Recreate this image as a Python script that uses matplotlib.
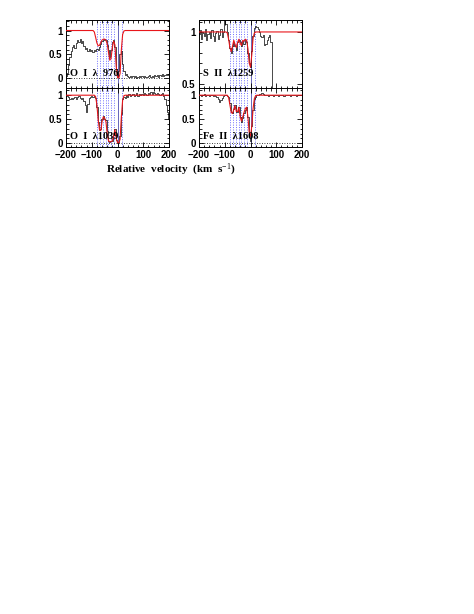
import numpy as np
import matplotlib
matplotlib.use("Agg")
import matplotlib.pyplot as plt
from matplotlib.ticker import MultipleLocator

plt.rcParams["mathtext.fontset"] = "custom"
plt.rcParams["mathtext.rm"] = "Liberation Serif"
plt.rcParams["mathtext.it"] = "Liberation Serif:italic"
plt.rcParams["mathtext.bf"] = "Liberation Serif:bold"

# velocity grid (km/s)
VEL = list(range(-200, 205, 5))

# component velocities (dotted blue lines)
COMP_VEL = [-78, -67, -55, -45, -35, -24, -14, 16]
ZERO_VEL = 0

# ---- O I 976 ----
OI976_FLUX = [0.05, 0.12, 0.28, 0.45, 0.58, 0.66, 0.70, 0.64, 0.74, 0.80,
              0.76, 0.82, 0.74, 0.78, 0.68, 0.62, 0.64, 0.58, 0.62, 0.57,
              0.59, 0.56, 0.60, 0.58, 0.62, 0.60, 0.66, 0.72, 0.78, 0.80,
              0.82, 0.80, 0.70, 0.60, 0.44, 0.60, 0.75, 0.80, 0.65, 0.20,
              0.04, 0.15, 0.50, 0.58, 0.30, 0.15, 0.08, 0.10, 0.06, 0.04,
              0.05, 0.02, 0.06, 0.03, 0.05, 0.01, 0.04, 0.06, 0.02, 0.05,
              0.03, 0.06, 0.04, 0.02, 0.05, 0.07, 0.03, 0.06, 0.04, 0.08,
              0.05, 0.07, 0.04, 0.08, 0.06, 0.09, 0.05, 0.08, 0.10, 0.07,
              0.09]
OI976_MODEL = [1.0] * 20 + [
              1.00, 1.00, 0.97, 0.86, 0.74, 0.68, 0.69, 0.75, 0.80, 0.82,
              0.82, 0.80, 0.72, 0.55, 0.38, 0.42, 0.65, 0.78, 0.70, 0.25,
              0.02, 0.01, 0.10, 0.60, 0.92, 0.99, 1.00, 1.00, 1.00, 1.00] + [1.0] * 31

# ---- O I 1039 ----
OI1039_FLUX = [1.00, 0.98, 0.96, 0.93, 0.95, 0.92, 0.94, 0.96, 0.93, 0.97,
               0.98, 0.95, 0.92, 0.94, 0.88, 0.80, 0.66, 0.82, 0.95, 0.97,
               0.98, 0.96, 0.99, 0.95, 0.75, 0.45, 0.28, 0.30, 0.50, 0.56,
               0.50, 0.48, 0.25, 0.05, 0.03, 0.05, 0.04, 0.18, 0.30, 0.06,
               0.00, 0.02, 0.15, 0.60, 0.92, 0.97, 0.95, 1.00, 0.97, 1.02,
               0.98, 1.00, 1.03, 0.99, 1.01, 1.04, 0.98, 1.02, 1.00, 1.03,
               1.01, 1.04, 1.02, 1.00, 1.05, 1.03, 1.07, 1.02, 1.06, 1.04,
               1.02, 1.05, 1.03, 1.00, 1.02, 1.04, 0.98, 0.92, 0.80, 0.65,
               0.50]
OI1039_MODEL = [1.0] * 20 + [
               1.00, 1.00, 1.00, 0.97, 0.80, 0.48, 0.28, 0.26, 0.45, 0.55,
               0.52, 0.45, 0.20, 0.05, 0.03, 0.03, 0.05, 0.15, 0.28, 0.10,
               0.01, 0.01, 0.08, 0.55, 0.90, 0.99, 1.00, 1.00, 1.00, 1.00] + [1.0] * 31

# ---- S II 1259 ----
nan = float("nan")
SII1259_FLUX = [0.98, 1.02, 0.93, 0.99, 0.96, 1.03, 0.92, 0.98, 1.00, 0.94,
                1.02, 0.96, 0.91, 0.99, 1.01, 0.93, 0.97, 1.03, 0.95, 1.00,
                1.13, 1.08, 1.00, 0.92, 0.85, 0.80, 0.86, 0.90, 0.86, 0.83,
                0.90, 0.92, 0.90, 0.86, 0.91, 0.88, 0.92, 0.90, 0.80, 0.70,
                0.66, 0.82, 0.96, 1.04, 1.06, 1.05, 1.03, 1.00, 0.96, 0.95,
                0.97, 0.87, 0.88, 0.92, 0.95, 0.97, 0.90, 0.30, nan, nan,
                nan, nan, nan, nan, nan, nan, nan, nan, nan, nan,
                nan, nan, nan, nan, nan, nan, nan, nan, nan, nan,
                nan]
SII1259_MODEL = [1.0] * 20 + [
                1.00, 1.00, 0.99, 0.93, 0.85, 0.81, 0.86, 0.92, 0.88, 0.85,
                0.90, 0.93, 0.89, 0.87, 0.92, 0.91, 0.93, 0.92, 0.84, 0.70,
                0.66, 0.78, 0.94, 0.99, 1.00, 1.00, 1.00, 1.00, 1.00, 1.00] + [1.0] * 31

# ---- Fe II 1608 ----
FEII1608_FLUX = [1.00, 1.01, 0.99, 1.00, 1.02, 0.99, 1.00, 1.01, 0.99, 1.00,
                 1.01, 0.98, 1.00, 0.99, 0.97, 0.93, 0.86, 0.90, 0.94, 0.99,
                 1.00, 1.01, 0.99, 0.97, 0.84, 0.65, 0.62, 0.72, 0.79, 0.66,
                 0.65, 0.76, 0.55, 0.45, 0.52, 0.62, 0.70, 0.76, 0.55, 0.15,
                 0.05, 0.35, 0.70, 0.92, 0.97, 1.00, 1.01, 1.02, 1.03, 1.04,
                 1.03, 1.01, 1.00, 1.01, 0.99, 1.00, 1.01, 1.00, 0.99, 1.01,
                 1.00, 1.01, 0.99, 1.00, 1.01, 1.00, 0.99, 1.01, 1.00, 1.01,
                 1.00, 0.99, 1.01, 1.00, 1.00, 1.01, 0.99, 1.00, 1.01, 1.00,
                 1.00]
FEII1608_MODEL = [1.0] * 20 + [
                 1.00, 1.00, 1.00, 0.95, 0.80, 0.64, 0.62, 0.70, 0.78, 0.66,
                 0.66, 0.75, 0.55, 0.46, 0.55, 0.64, 0.72, 0.75, 0.55, 0.22,
                 0.15, 0.35, 0.72, 0.93, 0.99, 1.00, 1.00, 1.00, 1.00, 1.00] + [1.0] * 31

LABELS = ["O  I  \u03bb  976", "S  II  \u03bb1259", "O  I  \u03bb1039", "Fe  II  \u03bb1608"]

W, H = 474, 614
fig = plt.figure(figsize=(W / 100, H / 100), dpi=100)

def frac_axes(x0, y0, x1, y1):
    return fig.add_axes([x0 / W, 1 - y1 / H, (x1 - x0) / W, (y1 - y0) / H])

panels = [
    (frac_axes(66, 19.5, 169, 88), OI976_FLUX, OI976_MODEL, LABELS[0], (-0.2, 1.23), True, 0.14),
    (frac_axes(199, 19.5, 302, 88), SII1259_FLUX, SII1259_MODEL, LABELS[1], (0.46, 1.12), False, 0.14),
    (frac_axes(66, 88, 169, 147), OI1039_FLUX, OI1039_MODEL, LABELS[2], (-0.08, 1.15), True, 0.10),
    (frac_axes(199, 88, 302, 147), FEII1608_FLUX, FEII1608_MODEL, LABELS[3], (-0.08, 1.15), True, 0.10),
]

tickfont = "Liberation Sans"
for i, (ax, flux, model, label, ylim, zero, ty) in enumerate(panels):
    v = np.array(VEL, dtype=float)
    for cv in COMP_VEL:
        ax.axvline(cv, color="#6f6fff", ls=(0, (1, 1.5)), lw=0.7, zorder=1)
    ax.axvline(ZERO_VEL, color="#2a2aa0", lw=0.5, zorder=1)
    if zero:
        ax.axhline(0, color="black", ls=(0, (1, 2)), lw=0.6, zorder=1)
    ax.plot(v, np.array(flux, dtype=float), color="black", lw=0.5,
            drawstyle="steps-mid", zorder=2)
    ax.plot(v, np.array(model, dtype=float), color="#e8161b", lw=0.8, zorder=3)
    ax.set_xlim(-200, 200)
    ax.set_ylim(*ylim)
    ax.xaxis.set_major_locator(MultipleLocator(100))
    ax.xaxis.set_minor_locator(MultipleLocator(20))
    ax.yaxis.set_major_locator(MultipleLocator(0.5))
    ax.yaxis.set_minor_locator(MultipleLocator(0.1))
    ax.tick_params(which="both", direction="in", top=True, right=True,
                   width=0.6, labelsize=7, pad=2.5)
    ax.tick_params(which="major", length=3.5)
    ax.tick_params(which="minor", length=1.8)
    for sp in ax.spines.values():
        sp.set_linewidth(0.7)
    ax.yaxis.set_major_formatter(plt.FuncFormatter(lambda y, p: ("%g" % y)))
    if i < 2:
        ax.tick_params(labelbottom=False)
    else:
        ax.xaxis.set_major_formatter(plt.FuncFormatter(lambda x, p: ("%d" % x).replace("-", "\u2212")))
    for t in ax.get_xticklabels() + ax.get_yticklabels():
        t.set_fontfamily(tickfont)
        t.set_fontweight("bold")
    ax.text(0.04, ty, label, transform=ax.transAxes, fontsize=7.5,
            family="Liberation Serif", fontweight="bold", ha="left", va="bottom", zorder=5)

fig.text(171 / W, 1 - 170 / H, "Relative  velocity  (km  s$^{-1}$)", ha="center", va="center",
         fontsize=8, family="Liberation Serif", fontweight="bold")

fig.savefig("out.png", dpi=100)
